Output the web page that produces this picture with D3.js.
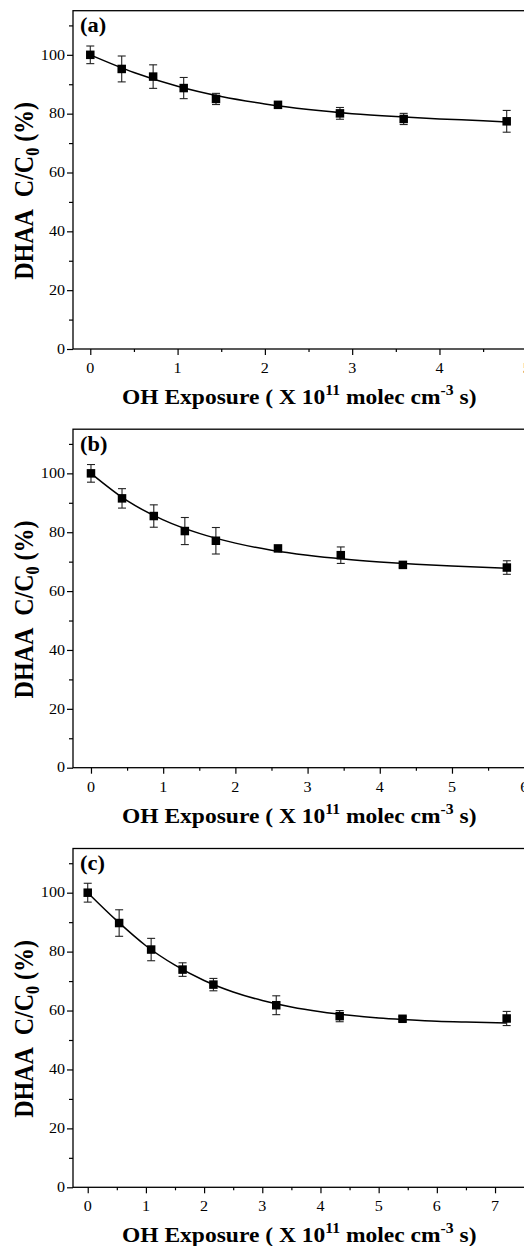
<!DOCTYPE html>
<html>
<head>
<meta charset="utf-8">
<script src="https://cdn.jsdelivr.net/npm/d3@7"></script>
<style>
  html, body { margin: 0; padding: 0; background: #fff; }
  svg { display: block; }
  text { font-family: "Liberation Serif", "Times New Roman", serif; fill: #000; }
</style>
</head>
<body>
<svg id="chart" width="524" height="1246"></svg>
<script>
// ---------- data ----------
const yTicks = [0, 20, 40, 60, 80, 100];
const yMinor = [10, 30, 50, 70, 90, 110];

const xTicksA = [0, 1, 2, 3, 4, 5];
const xA   = [0, 0.36, 0.72, 1.07, 1.44, 2.15, 2.86, 3.59, 4.77];
const yA   = [100, 95.2, 92.6, 88.7, 85.0, 83.0, 80.1, 78.2, 77.4];
const eA   = [3.0, 4.4, 4.0, 3.6, 1.9, 1.0, 2.0, 1.9, 3.7];
const fitXA = [0, 0.5, 1, 1.5, 2, 2.5, 3, 3.5, 4, 4.5, 4.77];
const fitYA = [100, 94.0, 89.3, 85.8, 83.3, 81.4, 80.0, 79.0, 78.2, 77.6, 77.2];

const xTicksB = [0, 1, 2, 3, 4, 5, 6];
const xB   = [0, 0.43, 0.87, 1.30, 1.73, 2.59, 3.46, 4.32, 5.76];
const yB   = [100, 91.5, 85.5, 80.4, 77.1, 74.5, 72.2, 68.9, 68.0];
const eB   = [3.0, 3.3, 3.8, 4.6, 4.5, 0.8, 2.8, 0.8, 2.3];
const fitXB = [0, 0.5, 1, 1.5, 2, 2.5, 3, 3.5, 4, 4.5, 5, 5.76];
const fitYB = [100, 90.7, 84.2, 79.6, 76.3, 73.9, 72.2, 70.9, 69.9, 69.1, 68.5, 67.8];

const xTicksC = [0, 1, 2, 3, 4, 5, 6, 7];
const xC   = [0, 0.54, 1.09, 1.63, 2.16, 3.24, 4.33, 5.41, 7.2];
const yC   = [100, 89.7, 80.7, 73.9, 68.8, 61.8, 58.1, 57.2, 57.3];
const eC   = [3.2, 4.5, 3.8, 2.3, 2.1, 3.2, 1.9, 0.8, 2.4];
const fitXC = [0, 0.5, 1, 1.5, 2, 2.5, 3, 3.5, 4, 4.5, 5, 5.5, 6, 6.5, 7.2];
const fitYC = [100, 90.5, 82.0, 75.4, 70.2, 66.3, 63.4, 61.2, 59.6, 58.4, 57.5, 56.9, 56.4, 56.1, 55.8];

const panelLabels = ["(a)", "(b)", "(c)"];

// ---------- layout ----------
const svg = d3.select("#chart");
const plotLeft = 73, plotRight = 541;
const SX = 1.12;      // horizontal stretch of the original figure's text
const tickSX = 1.15;

const panels = [
  { label: panelLabels[0], top: 10.7, bottom: 349, xDomain: [-0.198, 5.163], xTicks: xTicksA,
    x: xA, y: yA, e: eA, fx: fitXA, fy: fitYA },
  { label: panelLabels[1], top: 429.2, bottom: 767.7, xDomain: [-0.249, 6.233], xTicks: xTicksB,
    x: xB, y: yB, e: eB, fx: fitXB, fy: fitYB },
  { label: panelLabels[2], top: 848.5, bottom: 1187.3, xDomain: [-0.253, 7.79], xTicks: xTicksC,
    x: xC, y: yC, e: eC, fx: fitXC, fy: fitYC }
];

panels.forEach(p => {
  const g = svg.append("g");
  const xs = d3.scaleLinear().domain(p.xDomain).range([plotLeft, plotRight]);
  const ys = d3.scaleLinear().domain([0, 115]).range([p.bottom, p.top]);

  // frame
  g.append("rect")
    .attr("x", plotLeft).attr("y", p.top)
    .attr("width", plotRight - plotLeft).attr("height", p.bottom - p.top)
    .attr("fill", "none").attr("stroke", "#000").attr("stroke-width", 1.3);

  // x axis ticks
  const xMinor = d3.range(p.xTicks[0] + 0.5, p.xDomain[1], 1);
  const xAxisMaj = d3.axisBottom(xs).tickValues(p.xTicks).tickSize(6).tickFormat("");
  const xAxisMin = d3.axisBottom(xs).tickValues(xMinor).tickSize(3).tickFormat("");
  [xAxisMaj, xAxisMin].forEach(ax => {
    const a = g.append("g").attr("transform", `translate(0,${p.bottom})`).call(ax);
    a.select(".domain").remove();
    a.selectAll("line").attr("stroke", "#000").attr("stroke-width", 1.2);
  });
  // y axis ticks
  const yAxisMaj = d3.axisLeft(ys).tickValues(yTicks).tickSize(6).tickFormat("");
  const yAxisMin = d3.axisLeft(ys).tickValues(yMinor).tickSize(4).tickFormat("");
  [yAxisMaj, yAxisMin].forEach(ax => {
    const a = g.append("g").attr("transform", `translate(${plotLeft},0)`).call(ax);
    a.select(".domain").remove();
    a.selectAll("line").attr("stroke", "#000").attr("stroke-width", 1.2);
  });

  // tick labels
  g.selectAll(".xl").data(p.xTicks).enter().append("text")
    .attr("transform", d => `translate(${xs(d)},${p.bottom + 24}) scale(${tickSX},1)`)
    .attr("text-anchor", "middle").attr("font-size", 14).text(d => d);
  g.selectAll(".yl").data(yTicks).enter().append("text")
    .attr("transform", d => `translate(65,${ys(d) + 4.7}) scale(${tickSX},1)`)
    .attr("text-anchor", "end").attr("font-size", 14).text(d => d);

  // x axis title
  const xt = g.append("text")
    .attr("transform", `translate(122,${p.bottom + 55}) scale(${SX},1)`)
    .attr("font-size", 21).attr("font-weight", "bold");
  xt.append("tspan").text("OH Exposure ( X 10");
  xt.append("tspan").attr("font-size", 14).attr("dy", -9).text("11");
  xt.append("tspan").attr("dy", 9).text(" molec cm");
  xt.append("tspan").attr("font-size", 14).attr("dy", -9).text("-3");
  xt.append("tspan").attr("dy", 9).text(" s)");

  // y axis title
  const yc = (p.top + p.bottom) / 2 + 11;
  const yt = g.append("text")
    .attr("transform", `translate(33,${yc}) scale(${SX},1) rotate(-90)`)
    .attr("text-anchor", "middle").attr("font-size", 24).attr("font-weight", "bold");
  yt.append("tspan").text("DHAA");
  yt.append("tspan").attr("dx", 12).text("C/C");
  yt.append("tspan").attr("font-size", 16).attr("dy", 5).text("0");
  yt.append("tspan").attr("dy", -5).text(" (%)");

  // panel label
  g.append("text")
    .attr("transform", `translate(80,${p.top + 21.5}) scale(${SX},1)`)
    .attr("font-size", 20).attr("font-weight", "bold").text(p.label);

  // fit curve
  const fit = p.fx.map((v, i) => [v, p.fy[i]]);
  g.append("path").datum(fit)
    .attr("d", d3.line().x(d => xs(d[0])).y(d => ys(d[1])).curve(d3.curveMonotoneX))
    .attr("fill", "none").attr("stroke", "#000").attr("stroke-width", 1.5);

  const pts = p.x.map((v, i) => ({ x: v, y: p.y[i], e: p.e[i] }));
  // error bars
  const eb = g.selectAll(".eb").data(pts).enter().append("g")
    .attr("stroke", "#222").attr("stroke-width", 1.1);
  eb.append("line")
    .attr("x1", d => xs(d.x)).attr("x2", d => xs(d.x))
    .attr("y1", d => ys(d.y - d.e)).attr("y2", d => ys(d.y + d.e));
  eb.append("line")
    .attr("x1", d => xs(d.x) - 4).attr("x2", d => xs(d.x) + 4)
    .attr("y1", d => ys(d.y + d.e)).attr("y2", d => ys(d.y + d.e));
  eb.append("line")
    .attr("x1", d => xs(d.x) - 4).attr("x2", d => xs(d.x) + 4)
    .attr("y1", d => ys(d.y - d.e)).attr("y2", d => ys(d.y - d.e));

  // square markers
  const s = 8.5;
  g.selectAll(".pt").data(pts).enter().append("rect")
    .attr("x", d => xs(d.x) - s / 2).attr("y", d => ys(d.y) - s / 2)
    .attr("width", s).attr("height", s).attr("fill", "#000");
});
</script>
</body>
</html>
